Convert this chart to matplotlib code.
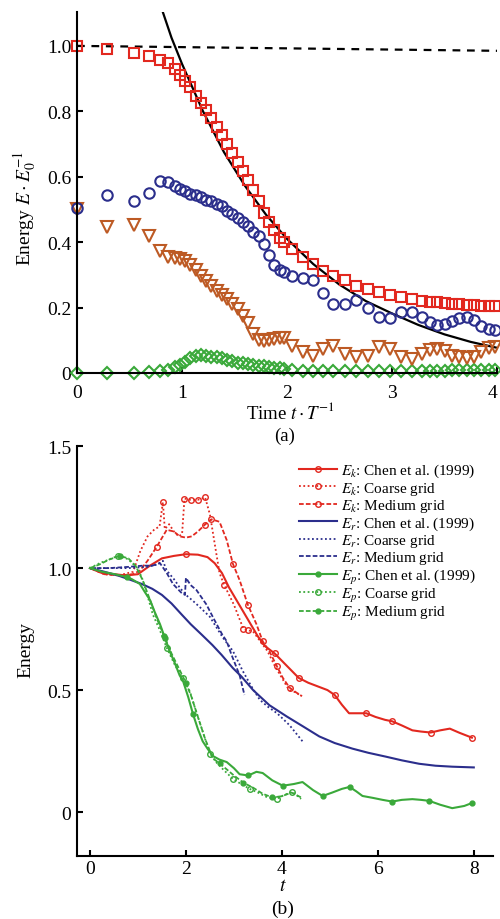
import matplotlib
matplotlib.use("Agg")
import matplotlib.pyplot as plt

plt.rcParams['font.family'] = ['Liberation Serif', 'DejaVu Serif']
plt.rcParams['mathtext.fontset'] = 'stix'

# ---------------- panel (a) data ----------------
t_a = [0, 0.285, 0.54, 0.685, 0.79, 0.87, 0.93, 0.98, 1.03, 1.08, 1.13, 1.18, 1.23,
       1.28, 1.33, 1.38, 1.43, 1.48, 1.53, 1.58, 1.63, 1.68, 1.73, 1.78, 1.83, 1.88,
       1.93, 1.97, 2.05, 2.15, 2.25, 2.34, 2.44, 2.55, 2.66, 2.77, 2.88, 2.98, 3.09,
       3.19, 3.29, 3.36, 3.43, 3.5, 3.57, 3.64, 3.71, 3.78, 3.85, 3.92, 3.98]

ek_a = [1.0, 0.99, 0.978, 0.968, 0.958, 0.948, 0.928, 0.91, 0.893, 0.873, 0.848, 0.825,
        0.805, 0.78, 0.752, 0.727, 0.70, 0.673, 0.645, 0.617, 0.59, 0.56, 0.525, 0.49,
        0.462, 0.438, 0.413, 0.40, 0.38, 0.355, 0.333, 0.312, 0.297, 0.283, 0.267, 0.257,
        0.247, 0.238, 0.232, 0.226, 0.221, 0.218, 0.216, 0.214, 0.212, 0.21, 0.208,
        0.207, 0.206, 0.205, 0.204]

er_a = [0.505, 0.545, 0.525, 0.55, 0.588, 0.585, 0.572, 0.562, 0.555, 0.548, 0.543,
        0.538, 0.53, 0.525, 0.518, 0.51, 0.496, 0.485, 0.475, 0.462, 0.45, 0.432, 0.418,
        0.395, 0.36, 0.33, 0.315, 0.308, 0.297, 0.29, 0.283, 0.245, 0.21, 0.212, 0.222,
        0.20, 0.172, 0.168, 0.186, 0.187, 0.172, 0.155, 0.148, 0.15, 0.16, 0.168, 0.17,
        0.162, 0.145, 0.133, 0.13]

ep_a = [0.5, 0.445, 0.453, 0.42, 0.374, 0.356, 0.352, 0.35, 0.342, 0.33, 0.315, 0.298,
        0.282, 0.265, 0.25, 0.238, 0.226, 0.212, 0.195, 0.175, 0.152, 0.12, 0.102, 0.098,
        0.10, 0.104, 0.106, 0.108, 0.083, 0.064, 0.052, 0.073, 0.083, 0.058, 0.049, 0.052,
        0.08, 0.073, 0.049, 0.043, 0.058, 0.07, 0.073, 0.067, 0.052, 0.048, 0.047, 0.05,
        0.065, 0.077, 0.08]

ed_a = [0, 0, 0, 0.002, 0.005, 0.01, 0.018, 0.025, 0.035, 0.045, 0.052, 0.054, 0.053,
        0.05, 0.048, 0.045, 0.04, 0.036, 0.032, 0.03, 0.027, 0.024, 0.022, 0.02, 0.018,
        0.016, 0.015, 0.012, 0.008, 0.006, 0.005, 0.005, 0.005, 0.005, 0.005, 0.005,
        0.005, 0.005, 0.005, 0.005, 0.005, 0.006, 0.006, 0.007, 0.008, 0.008, 0.009,
        0.009, 0.01, 0.01, 0.01]

t_fit = [0.80, 0.9, 1.0, 1.2, 1.4, 1.6, 1.8, 2.0, 2.25, 2.5, 2.75, 3.0, 3.25, 3.5, 3.75, 4.0]
e_fit = [1.12, 1.025, 0.945, 0.80, 0.675, 0.572, 0.484, 0.41, 0.333, 0.27, 0.22, 0.182,
         0.147, 0.118, 0.095, 0.077]

t_ref = [0, 4]
e_ref = [1.0, 0.985]

# ---------------- panel (b) data ----------------
t_ek_chen = [0, 0.25, 0.5, 0.75, 1.0, 1.25, 1.5, 1.75, 2.0, 2.25, 2.45, 2.6, 2.75, 2.9,
             3.05, 3.2, 3.35, 3.5, 3.65, 3.85, 4.1, 4.35, 4.55, 4.75, 4.95, 5.1, 5.25,
             5.4, 5.6, 5.76, 5.95, 6.15, 6.3, 6.5, 6.72, 6.9, 7.1, 7.3, 7.5, 7.7, 7.96]
ek_chen = [1.0, 0.98, 0.975, 0.97, 0.975, 1.01, 1.04, 1.05, 1.057, 1.055, 1.045, 1.02,
           0.98, 0.92, 0.87, 0.82, 0.77, 0.72, 0.68, 0.65, 0.60, 0.55, 0.53, 0.515, 0.50,
           0.48, 0.44, 0.405, 0.405, 0.405, 0.39, 0.378, 0.372, 0.355, 0.335, 0.33, 0.326,
           0.335, 0.342, 0.325, 0.305]

t_ek_coarse = [0, 0.3, 0.6, 0.9, 1.05, 1.2, 1.35, 1.45, 1.52, 1.56, 1.65, 1.75, 1.85,
               1.92, 1.97, 2.1, 2.25, 2.4, 2.5, 2.6, 2.7, 2.8, 2.9, 3.0, 3.1, 3.2, 3.3,
               3.4, 3.55, 3.7, 3.85, 4.0, 4.15, 4.3, 4.4]
ek_coarse = [1.0, 0.975, 0.97, 0.985, 1.07, 1.13, 1.16, 1.17, 1.27, 1.16, 1.18, 1.15,
             1.13, 1.14, 1.285, 1.28, 1.28, 1.29, 1.22, 1.10, 0.98, 0.93, 0.89, 0.85,
             0.80, 0.75, 0.745, 0.74, 0.70, 0.66, 0.60, 0.55, 0.50, 0.49, 0.475]

t_ek_medium = [0, 0.3, 0.6, 0.9, 1.04, 1.2, 1.39, 1.6, 1.75, 1.87, 2.0, 2.12, 2.25, 2.39,
               2.53, 2.7, 2.85, 2.98, 3.12, 3.29, 3.47, 3.6, 3.75, 3.89, 4.02, 4.16, 4.3,
               4.42]
ek_medium = [1.0, 0.975, 0.97, 0.975, 0.99, 1.03, 1.087, 1.157, 1.15, 1.13, 1.125, 1.13,
             1.15, 1.177, 1.20, 1.19, 1.115, 1.017, 0.95, 0.85, 0.77, 0.70, 0.655, 0.60,
             0.55, 0.51, 0.49, 0.475]

t_er_chen = [0, 0.3, 0.58, 0.8, 1.08, 1.3, 1.5, 1.7, 1.91, 2.1, 2.33, 2.55, 2.74, 2.98,
             3.16, 3.4, 3.74, 4.1, 4.45, 4.78, 5.1, 5.47, 5.8, 6.17, 6.5, 6.86, 7.2, 7.55,
             8.0]
er_chen = [1.0, 0.985, 0.97, 0.955, 0.935, 0.915, 0.89, 0.855, 0.81, 0.77, 0.727, 0.685,
           0.645, 0.59, 0.555, 0.50, 0.438, 0.392, 0.35, 0.31, 0.283, 0.26, 0.243, 0.227,
           0.212, 0.198, 0.19, 0.186, 0.183]

t_er_coarse = [0, 0.4, 0.8, 1.2, 1.4, 1.52, 1.6, 1.77, 1.87, 2.0, 2.15, 2.29, 2.5, 2.77,
               2.98, 3.18, 3.35, 3.54, 3.72, 3.9, 4.16, 4.43]
er_coarse = [1.0, 1.0, 1.0, 1.005, 1.015, 1.03, 0.99, 0.95, 0.92, 0.89, 0.865, 0.84,
             0.80, 0.715, 0.66, 0.58, 0.52, 0.46, 0.43, 0.405, 0.356, 0.29]

t_er_medium = [0, 0.4, 0.8, 1.1, 1.3, 1.46, 1.6, 1.73, 1.9, 1.98, 2.0, 2.1, 2.22, 2.43,
               2.56, 2.75, 2.85, 2.95, 3.12, 3.22]
er_medium = [1.0, 1.0, 1.005, 1.01, 1.01, 1.02, 0.98, 0.935, 0.90, 0.89, 0.96, 0.93,
             0.91, 0.85, 0.80, 0.73, 0.70, 0.645, 0.56, 0.48]

t_ep_chen = [0, 0.25, 0.52, 0.77, 0.87, 1.04, 1.15, 1.25, 1.35, 1.46, 1.56, 1.66, 1.77,
             1.87, 1.94, 2.05, 2.15, 2.25, 2.35, 2.45, 2.56, 2.7, 2.85, 3.0, 3.12, 3.3,
             3.47, 3.6, 3.8, 4.02, 4.25, 4.43, 4.65, 4.85, 5.05, 5.25, 5.41, 5.55, 5.68,
             5.9, 6.1, 6.3, 6.5, 6.72, 6.9, 7.07, 7.3, 7.55, 7.8, 7.96]
ep_chen = [1.0, 0.985, 0.975, 0.963, 0.955, 0.935, 0.90, 0.87, 0.82, 0.77, 0.715, 0.66,
           0.61, 0.56, 0.537, 0.47, 0.40, 0.34, 0.29, 0.26, 0.23, 0.215, 0.205, 0.18,
           0.155, 0.15, 0.165, 0.16, 0.13, 0.108, 0.115, 0.123, 0.09, 0.066, 0.08, 0.095,
           0.103, 0.085, 0.066, 0.058, 0.05, 0.043, 0.05, 0.053, 0.05, 0.046, 0.03, 0.016,
           0.025, 0.037]

t_ep_coarse = [0, 0.2, 0.37, 0.58, 0.79, 0.97, 1.08, 1.19, 1.31, 1.46, 1.6, 1.77, 1.93,
               2.08, 2.2, 2.35, 2.5, 2.65, 2.8, 2.98, 3.15, 3.33, 3.5, 3.68, 3.89, 4.05,
               4.22, 4.4]
ep_coarse = [1.0, 1.02, 1.033, 1.05, 1.037, 1.004, 0.963, 0.893, 0.81, 0.744, 0.673,
             0.603, 0.55, 0.496, 0.42, 0.33, 0.24, 0.20, 0.17, 0.136, 0.115, 0.095, 0.08,
             0.062, 0.054, 0.07, 0.083, 0.054]

t_ep_medium = [0, 0.2, 0.4, 0.62, 0.8, 0.95, 1.1, 1.25, 1.4, 1.55, 1.7, 1.85, 2.0, 2.12,
               2.25, 2.4, 2.56, 2.7, 2.85, 3.0, 3.2, 3.4, 3.6, 3.8, 4.0, 4.2, 4.4]
ep_medium = [1.0, 1.015, 1.035, 1.05, 1.04, 1.01, 0.95, 0.87, 0.79, 0.72, 0.65, 0.59,
             0.53, 0.47, 0.39, 0.30, 0.22, 0.20, 0.175, 0.15, 0.12, 0.10, 0.075, 0.06,
             0.065, 0.08, 0.06]

RED = '#e2281f'
BLUE = '#2b2e8c'
GREEN = '#3aa93a'
ORANGE = '#bd5a24'

fig = plt.figure(figsize=(5, 9.2), dpi=100)

# ================= panel (a) =================
ax1 = fig.add_axes([0.154, 0.5935, 0.840, 0.3925])
ax1.plot(t_ref, e_ref, color='k', lw=1.6, dashes=(3.5, 3))
ax1.plot(t_fit, e_fit, color='k', lw=1.6)
mk = dict(ls='none', ms=7.5, mew=1.5, mfc='none', clip_on=False)
ax1.plot(t_a, ed_a, marker='D', mec=GREEN, **dict(mk, ms=6.5))
ax1.plot(t_a, ep_a, marker='v', mec=ORANGE, **dict(mk, ms=8.5))
ax1.plot(t_a, er_a, marker='o', mec=BLUE, **mk)
ax1.plot(t_a, ek_a, marker='s', mec=RED, **mk)

ax1.set_xlim(0, 4)
ax1.set_ylim(0, 1.104)
ax1.set_xticks([0, 1, 2, 3, 4])
ax1.set_yticks([0, 0.2, 0.4, 0.6, 0.8, 1.0])
ax1.set_yticklabels(['0', '0.2', '0.4', '0.6', '0.8', '1.0'])
ax1.tick_params(axis='x', pad=8)

# ================= panel (b) =================
ax2 = fig.add_axes([0.154, 0.0685, 0.832, 0.4455])
lw_s, lw_d = 1.5, 1.3
dot = (0, (1, 1.4))
dash = (0, (2.6, 1.2))

ax2.plot(t_ek_chen, ek_chen, color=RED, lw=lw_s, marker='o', ms=4, mfc='none', mew=1,
         markevery=[8, 19, 21, 25, 29, 32, 36, 40], label=r'$E_k$: Chen et al. (1999)')
ax2.plot(t_ek_coarse, ek_coarse, color=RED, lw=lw_d, ls=dot, marker='o', ms=4,
         mfc='none', mew=1, markevery=[8, 14, 15, 16, 17, 21, 25, 26],
         label=r'$E_k$: Coarse grid')
ax2.plot(t_ek_medium, ek_medium, color=RED, lw=lw_d, ls=dash, marker='o', ms=4,
         mfc='none', mew=1, markevery=[6, 13, 14, 17, 19, 21, 23, 25],
         label=r'$E_k$: Medium grid')

ax2.plot(t_er_chen, er_chen, color=BLUE, lw=lw_s, label=r'$E_r$: Chen et al. (1999)')
ax2.plot(t_er_coarse, er_coarse, color=BLUE, lw=lw_d, ls=dot, label=r'$E_r$: Coarse grid')
ax2.plot(t_er_medium, er_medium, color=BLUE, lw=lw_d, ls=dash, label=r'$E_r$: Medium grid')

ax2.plot(t_ep_chen, ep_chen, color=GREEN, lw=lw_s, marker='o', ms=3.5, mew=1,
         markevery=[3, 10, 16, 25, 29, 33, 36, 41, 45, 49],
         label=r'$E_p$: Chen et al. (1999)')
ax2.plot(t_ep_coarse, ep_coarse, color=GREEN, lw=lw_d, ls=dot, marker='o', ms=4,
         mfc='none', mew=1, markevery=[3, 10, 12, 16, 19, 21, 24, 26],
         label=r'$E_p$: Coarse grid')
ax2.plot(t_ep_medium, ep_medium, color=GREEN, lw=lw_d, ls=dash, marker='o', ms=3.5,
         mew=1, markevery=[3, 9, 12, 17, 20, 23],
         label=r'$E_p$: Medium grid')

ax2.set_xlim(-0.27, 8.4)
ax2.set_ylim(-0.18, 1.5)
ax2.set_xticks([0, 2, 4, 6, 8])
ax2.set_yticks([0, 0.5, 1.0, 1.5])
ax2.set_yticklabels(['0', '0.5', '1.0', '1.5'])
ax2.tick_params(axis='x', pad=3)

leg = ax2.legend(loc='upper left', bbox_to_anchor=(0.598, 1 - 463 / 920),
                 bbox_transform=fig.transFigure, frameon=False, fontsize=11,
                 labelspacing=0.02, handlelength=2.5, handletextpad=0.25,
                 borderpad=0, borderaxespad=0)

for ax in (ax1, ax2):
    for side in ('top', 'right'):
        ax.spines[side].set_visible(False)
    for side in ('left', 'bottom'):
        ax.spines[side].set_linewidth(1.5)
    ax.tick_params(direction='in', length=4, width=1.5, labelsize=14)
    ax.tick_params(axis='y', pad=4)

# last x tick label of panel (a) sits at the figure edge; keep it inside
ax1.get_xticklabels()[-1].set_horizontalalignment('right')

# axis titles and panel tags
fig.text(25 / 500, 1 - 208 / 920, r'Energy $E\cdot E_0^{-1}$', rotation=90,
         ha='center', va='center', fontsize=14)
fig.text(290 / 500, 1 - 413 / 920, r'Time $t\cdot T^{-1}$', ha='center', va='center',
         fontsize=13.5)
fig.text(285 / 500, 1 - 436 / 920, '(a)', ha='center', va='center', fontsize=13.5)

fig.text(26 / 500, 1 - 650 / 920, 'Energy', rotation=90, ha='center', va='center',
         fontsize=14)
fig.text(283 / 500, 1 - 887 / 920, r'$t$', ha='center', va='center', fontsize=14)
fig.text(283 / 500, 1 - 909 / 920, '(b)', ha='center', va='center', fontsize=14)

fig.savefig('out.png', dpi=100)
